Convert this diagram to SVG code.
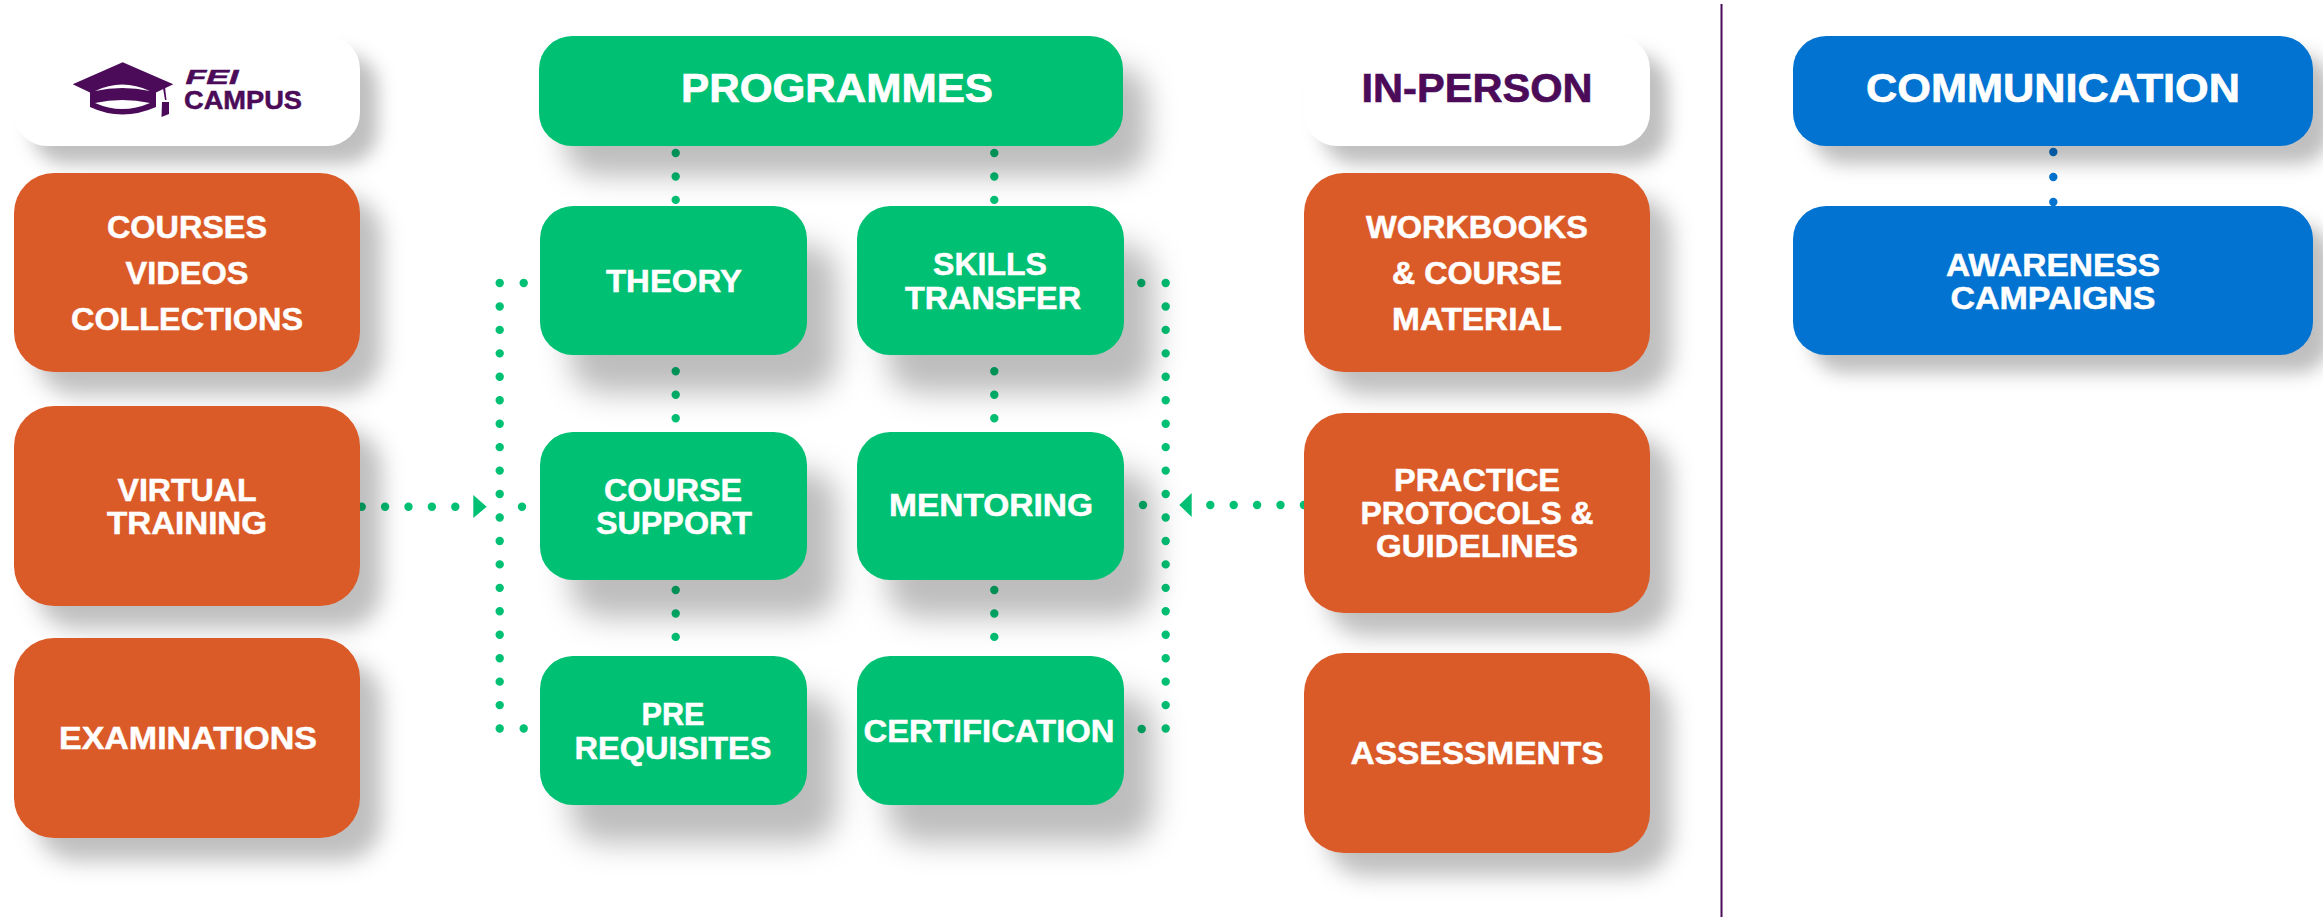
<svg xmlns="http://www.w3.org/2000/svg" width="2323" height="917" viewBox="0 0 2323 917">
<style>
text{font-family:"Liberation Sans",Arial,sans-serif;font-weight:700;fill:#fff;stroke:#fff;stroke-width:.5px;text-anchor:middle;font-size:31px}
.h{font-size:41px;stroke-width:.7px}
text.p{fill:#4b0b58;stroke:#4b0b58}
.p{fill:#4b0b58}
.s1{filter:url(#sh1)}.s2{filter:url(#sh2)}.s3{filter:url(#sh3)}.s4{filter:url(#sh4)}
.o{fill:#db5b28}.g{fill:#00c073}.b{fill:#0273d1}.w{fill:#fff}
.d,.s{fill:none;stroke-width:8.4;stroke-linecap:round;stroke:#00c073}
.d{stroke-dasharray:0 23.45}
.bl{stroke:#0273d1}
</style>
<defs>
<filter id="sh1" x="-20%" y="-40%" width="150%" height="220%" color-interpolation-filters="sRGB">
<feDropShadow dx="18" dy="18" stdDeviation="9" flood-color="#000" flood-opacity=".25"/>
</filter>
<filter id="sh2" x="-20%" y="-30%" width="150%" height="170%" color-interpolation-filters="sRGB">
<feDropShadow dx="22" dy="23" stdDeviation="11" flood-color="#000" flood-opacity=".25"/>
</filter>
<filter id="sh3" x="-30%" y="-40%" width="180%" height="200%" color-interpolation-filters="sRGB">
<feDropShadow dx="30" dy="38" stdDeviation="15" flood-color="#000" flood-opacity=".26"/>
</filter>
<filter id="sh4" x="-20%" y="-40%" width="150%" height="250%" color-interpolation-filters="sRGB">
<feDropShadow dx="25" dy="30" stdDeviation="14" flood-color="#000" flood-opacity=".26"/>
</filter>
</defs>
<rect width="2323" height="917" fill="#fff"/>
<g id="connectors">
<path class="d" d="M675.7 153V202M675.7 371.3V421M675.7 590V640M994.3 153V202M994.3 371.3V421M994.3 590V640"/>
<path class="d" d="M499.7 283V729M1165.7 283V729"/>
<path class="d" style="stroke-dasharray:0 23.4" d="M361.7 506.7H456M1210.3 505H1305"/>
<path class="s" d="M522 506.7h0M1143 505h0M523.7 283h0M523.7 728.5h0M1141.3 283h0M1141.7 729h0"/>
<polygon fill="#00c073" points="473.3,495 486.7,506.7 473.3,518"/>
<polygon fill="#00c073" points="1179.3,505 1191.7,493 1191.7,517"/>
<path class="d bl" style="stroke-dasharray:0 25" d="M2053.3 152V203"/>
</g>
<line id="divider" x1="1721.5" y1="4" x2="1721.5" y2="917" stroke="#4b0b58" stroke-width="2"/>
<g id="fei-campus">
<rect class="s1 w" x="14" y="36" width="346" height="110" rx="33"/>
<g class="p">
<path d="M72.7 84.3L122.7 62.3L173.3 84.3L156 92.500V107Q122 122 90 107V92.500Z"/>
<path class="w" d="M95 91Q122 78 150 91Q122 85 95 91Z"/>
<path class="w" d="M95 103Q122 97 150 103Q122 115 95 103Z"/>
<path d="M163 88L165 100L166.500 100L165 87Z"/>
<path d="M162 102L169 102L169 114L161.500 117Z"/>
<text class="p" x="212" y="84" textLength="53" lengthAdjust="spacingAndGlyphs" style="font-size:21px;font-style:italic">FEI</text>
<text class="p" x="243" y="109" textLength="118" lengthAdjust="spacingAndGlyphs" style="font-size:26px">CAMPUS</text>
</g>
</g>
<g id="courses"><rect class="s2 o" x="14" y="173" width="346" height="199" rx="40"/>
<text x="187" y="238" textLength="160" lengthAdjust="spacingAndGlyphs">COURSES</text><text x="187" y="284" textLength="123" lengthAdjust="spacingAndGlyphs">VIDEOS</text><text x="187" y="330" textLength="232" lengthAdjust="spacingAndGlyphs">COLLECTIONS</text></g>
<g id="virtual-training"><rect class="s2 o" x="14" y="406" width="346" height="200" rx="40"/>
<text x="187" y="501" textLength="139" lengthAdjust="spacingAndGlyphs">VIRTUAL</text><text x="187" y="534" textLength="160" lengthAdjust="spacingAndGlyphs">TRAINING</text></g>
<g id="examinations"><rect class="s2 o" x="14" y="638" width="346" height="200" rx="40"/>
<text x="188" y="749" textLength="258" lengthAdjust="spacingAndGlyphs">EXAMINATIONS</text></g>
<g id="programmes"><rect class="s4 g" x="539" y="36" width="584" height="110" rx="33"/>
<text class="h" x="837" y="102" textLength="312" lengthAdjust="spacingAndGlyphs">PROGRAMMES</text></g>
<g id="theory"><rect class="s3 g" x="540" y="206" width="267" height="149" rx="33"/>
<text x="674" y="292" textLength="136" lengthAdjust="spacingAndGlyphs">THEORY</text></g>
<g id="skills-transfer"><rect class="s3 g" x="857" y="206" width="267" height="149" rx="33"/>
<text x="990" y="275" textLength="114" lengthAdjust="spacingAndGlyphs">SKILLS</text><text x="993" y="309" textLength="176" lengthAdjust="spacingAndGlyphs">TRANSFER</text></g>
<g id="course-support"><rect class="s3 g" x="540" y="432" width="267" height="148" rx="33"/>
<text x="673" y="501" textLength="138" lengthAdjust="spacingAndGlyphs">COURSE</text><text x="674" y="534" textLength="156" lengthAdjust="spacingAndGlyphs">SUPPORT</text></g>
<g id="mentoring"><rect class="s3 g" x="857" y="432" width="267" height="148" rx="33"/>
<text x="991" y="516" textLength="204" lengthAdjust="spacingAndGlyphs">MENTORING</text></g>
<g id="pre-requisites"><rect class="s3 g" x="540" y="656" width="267" height="149" rx="33"/>
<text x="673" y="725" textLength="63" lengthAdjust="spacingAndGlyphs">PRE</text><text x="673" y="759" textLength="197" lengthAdjust="spacingAndGlyphs">REQUISITES</text></g>
<g id="certification"><rect class="s3 g" x="857" y="656" width="267" height="149" rx="33"/>
<text x="989" y="742" textLength="251" lengthAdjust="spacingAndGlyphs">CERTIFICATION</text></g>
<g id="in-person"><rect class="s1 w" x="1304" y="36" width="346" height="110" rx="33"/>
<text class="h p" x="1477" y="102" textLength="231" lengthAdjust="spacingAndGlyphs">IN-PERSON</text></g>
<g id="workbooks"><rect class="s2 o" x="1304" y="173" width="346" height="199" rx="40"/>
<text x="1477" y="238" textLength="222" lengthAdjust="spacingAndGlyphs">WORKBOOKS</text><text x="1477" y="284" textLength="170" lengthAdjust="spacingAndGlyphs">&amp; COURSE</text><text x="1477" y="330" textLength="170" lengthAdjust="spacingAndGlyphs">MATERIAL</text></g>
<g id="practice"><rect class="s2 o" x="1304" y="413" width="346" height="200" rx="40"/>
<text x="1477" y="491" textLength="166" lengthAdjust="spacingAndGlyphs">PRACTICE</text><text x="1477" y="524" textLength="233" lengthAdjust="spacingAndGlyphs">PROTOCOLS &amp;</text><text x="1477" y="557" textLength="202" lengthAdjust="spacingAndGlyphs">GUIDELINES</text></g>
<g id="assessments"><rect class="s2 o" x="1304" y="653" width="346" height="200" rx="40"/>
<text x="1477" y="764" textLength="253" lengthAdjust="spacingAndGlyphs">ASSESSMENTS</text></g>
<g id="communication"><rect class="s1 b" x="1793" y="36" width="520" height="110" rx="33"/>
<text class="h" x="2053" y="102" textLength="374" lengthAdjust="spacingAndGlyphs">COMMUNICATION</text></g>
<g id="awareness"><rect class="s1 b" x="1793" y="206" width="520" height="149" rx="33"/>
<text x="2053" y="276" textLength="214" lengthAdjust="spacingAndGlyphs">AWARENESS</text><text x="2053" y="309" textLength="205" lengthAdjust="spacingAndGlyphs">CAMPAIGNS</text></g>
</svg>
